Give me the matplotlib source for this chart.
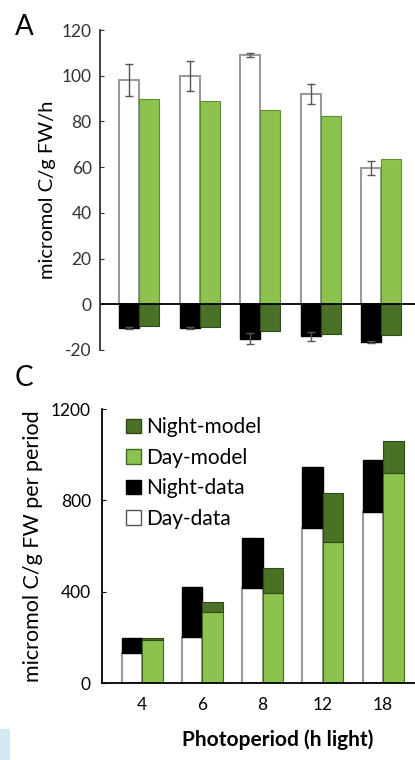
import matplotlib
matplotlib.use("Agg")
import matplotlib.pyplot as plt
import numpy as np
from matplotlib.patches import Patch, Rectangle

plt.rcParams["font.family"] = ["Lato", "DejaVu Sans"]
plt.rcParams["axes.unicode_minus"] = False

photoperiods = ["4", "6", "8", "12", "18"]

# panel A: rates (micromol C/g FW/h)
day_data_rate = [98, 100, 109, 92, 59.5]
day_data_err = [7, 6.5, 1, 4.5, 3]
day_model_rate = [90, 89, 85, 82.5, 63.5]
night_data_rate = [-10.5, -10.5, -15, -14, -16.5]
night_data_err = [0.5, 0.5, 2.5, 2, 0.5]
night_model_rate = [-9.5, -10, -11.5, -13, -13.5]

# panel C: totals per period
day_data_total = [131, 201, 415, 678, 747]
night_data_total = [66, 219, 219, 266, 228]
day_model_total = [190, 310, 393, 616, 922]
night_model_total = [5, 44, 110, 215, 136]

LIGHT_GREEN = "#8dc24f"
DARK_GREEN = "#4a7226"
GRAY_EDGE = "#9a9a9a"

fig = plt.figure(figsize=(4.15, 7.6), dpi=100)

x = np.arange(len(photoperiods))
w = 0.33

# ---- panel A ----
ax_a = fig.add_axes([0.241, 0.5395, 0.759, 0.421])
ax_a.bar(x - w / 2, day_data_rate, w, color="white", edgecolor=GRAY_EDGE, linewidth=1.5,
         yerr=day_data_err, error_kw=dict(ecolor="#555555", capsize=3, lw=1))
ax_a.bar(x + w / 2, day_model_rate, w, color=LIGHT_GREEN, edgecolor="#5f8f35", linewidth=0.8)
ax_a.bar(x - w / 2, night_data_rate, w, color="black", edgecolor="black",
         yerr=night_data_err, error_kw=dict(ecolor="#555555", capsize=3, lw=1))
ax_a.bar(x + w / 2, night_model_rate, w, color=DARK_GREEN, edgecolor="#2f4a18", linewidth=0.8)
ax_a.axhline(0, color="black", lw=1.3)
ax_a.set_xlim(-0.645, 4.56)
ax_a.set_ylim(-20, 120)
ax_a.set_yticks(range(-20, 121, 20))
ax_a.set_xticks([])
for s in ["top", "right", "bottom"]:
    ax_a.spines[s].set_visible(False)
ax_a.spines["left"].set_color("#333333")
ax_a.spines["left"].set_linewidth(1.3)
ax_a.tick_params(axis="y", labelsize=12.5, length=3, direction="in", colors="#333333", pad=6)
ax_a.set_ylabel("micromol C/g FW/h", fontsize=14.5, labelpad=4)
fig.text(0.035, 0.965, "A", fontsize=20, va="center")

# ---- panel C ----
ax_c = fig.add_axes([0.246, 0.1013, 0.754, 0.3605])
wc = 0.34
ax_c.bar(x - wc / 2, day_data_total, wc, color="white", edgecolor=GRAY_EDGE, linewidth=1.5)
ax_c.bar(x - wc / 2, night_data_total, wc, bottom=day_data_total, color="black", edgecolor="black")
ax_c.bar(x + wc / 2, day_model_total, wc, color=LIGHT_GREEN, edgecolor="#3f6a1f", linewidth=0.8)
ax_c.bar(x + wc / 2, night_model_total, wc, bottom=day_model_total, color=DARK_GREEN,
         edgecolor="#2f4a18", linewidth=0.8)
ax_c.set_xlim(-0.663, 4.53)
ax_c.set_ylim(0, 1200)
ax_c.set_yticks([0, 400, 800, 1200])
ax_c.set_xticks(x)
ax_c.set_xticklabels(photoperiods)
for s in ["top", "right"]:
    ax_c.spines[s].set_visible(False)
for s in ["left", "bottom"]:
    ax_c.spines[s].set_linewidth(1.3)
ax_c.tick_params(axis="y", labelsize=12.5, length=3, direction="in", pad=8)
ax_c.tick_params(axis="x", labelsize=12.5, length=0, pad=10)
ax_c.set_ylabel("micromol C/g FW per period", fontsize=15.5, labelpad=6)
ax_c.set_xlabel("Photoperiod (h light)", fontsize=15, fontweight="bold")
ax_c.xaxis.set_label_coords(0.56, -0.17)
fig.text(0.035, 0.503, "C", fontsize=20, va="center")

handles = [
    Patch(facecolor=DARK_GREEN, edgecolor="#2f4a18", label="Night-model"),
    Patch(facecolor=LIGHT_GREEN, edgecolor="#3f6a1f", label="Day-model"),
    Patch(facecolor="black", edgecolor="black", label="Night-data"),
    Patch(facecolor="white", edgecolor="#555555", label="Day-data"),
]
ax_c.legend(handles=handles, loc="upper left", bbox_to_anchor=(0.05, 1.0), frameon=False,
            fontsize=15, handlelength=0.7, handleheight=0.7, handletextpad=0.25,
            labelspacing=0.5, borderaxespad=0)

# faint blue scan artefact in the bottom-left corner
fig.patches.append(Rectangle((0, 0), 10 / 415, 31 / 760, transform=fig.transFigure,
                             facecolor="#d3e8f2", edgecolor="none"))

fig.savefig("out.png", dpi=100)
